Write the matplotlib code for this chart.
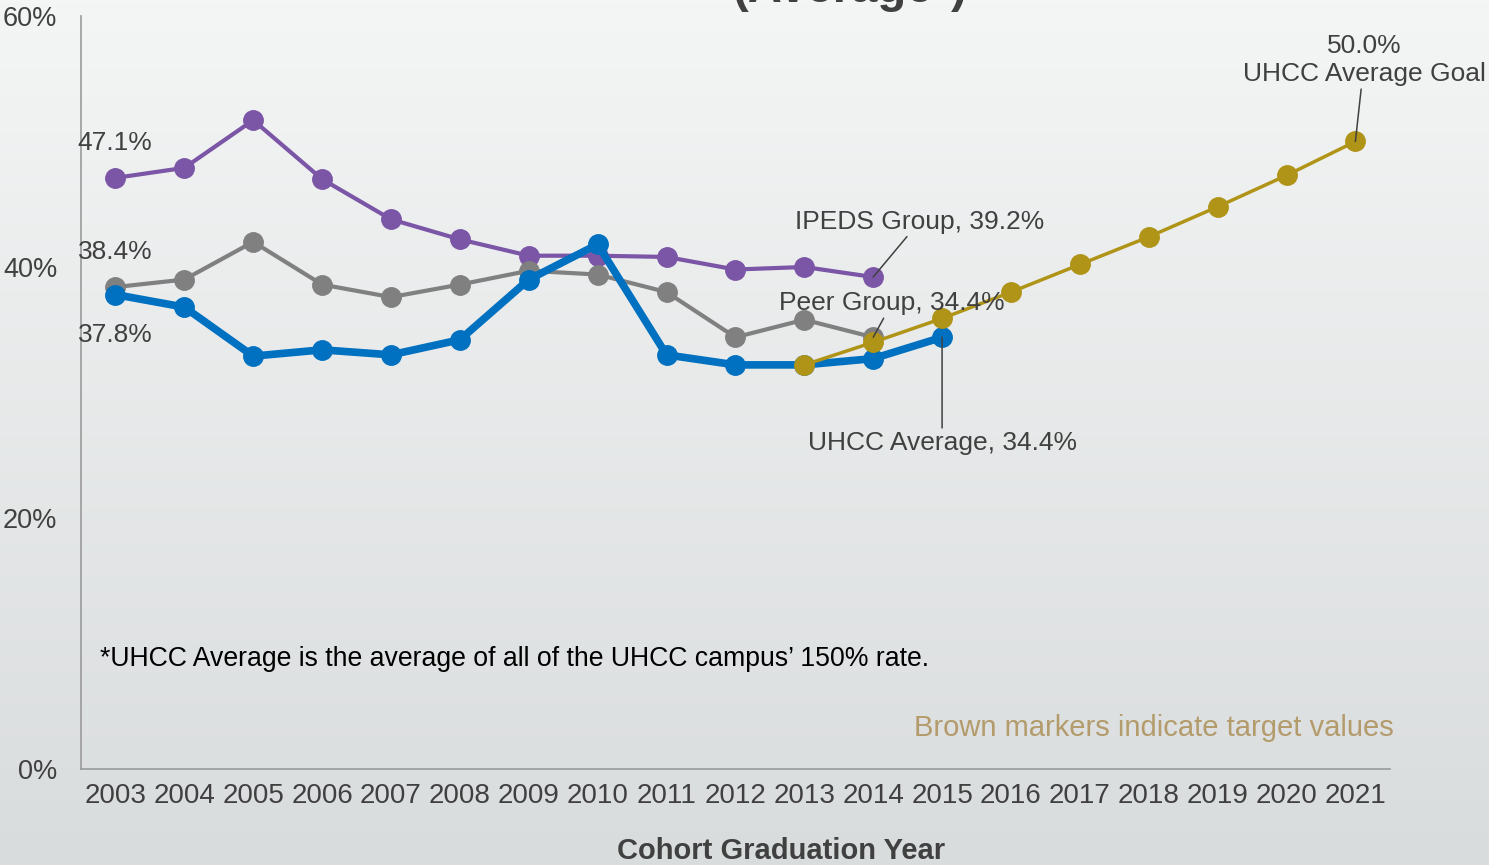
import matplotlib
matplotlib.use("Agg")
import matplotlib.pyplot as plt
import numpy as np

plt.rcParams['font.family'] = ['Liberation Sans', 'DejaVu Sans']

years = list(range(2003, 2022))
ipeds_years = list(range(2003, 2015))
ipeds = [47.1, 47.9, 51.7, 47.0, 43.8, 42.2, 40.9, 40.9, 40.8, 39.8, 40.0, 39.2]
peer_years = list(range(2003, 2015))
peer = [38.4, 39.0, 42.0, 38.6, 37.6, 38.6, 39.7, 39.4, 38.0, 34.4, 35.8, 34.4]
uhcc_years = list(range(2003, 2016))
uhcc = [37.8, 36.8, 32.9, 33.4, 33.0, 34.2, 39.0, 41.8, 33.0, 32.2, 32.2, 32.7, 34.4]
target_years = list(range(2013, 2022))
target = [32.2, 34.0, 35.9, 38.0, 40.2, 42.4, 44.8, 47.3, 50.0]

TXT = '#404040'
C_PURPLE = '#7B55A6'
C_GRAY = '#808080'
C_BLUE = '#0070C0'
C_GOLD = '#B09418'

fig = plt.figure(figsize=(14.89, 8.65), dpi=100)

# background gradient
bg = fig.add_axes([0, 0, 1, 1], zorder=-10)
grad = np.linspace(0, 1, 256).reshape(-1, 1)
top = np.array([0.957, 0.961, 0.961])
bot = np.array([0.851, 0.863, 0.867])
img = top + (bot - top) * grad[:, :, None]
bg.imshow(img, aspect='auto', extent=[0, 1, 0, 1])
bg.axis('off')

ax = fig.add_axes([0.0544, 0.111, 0.879, 0.8705])
ax.patch.set_alpha(0)

ax.plot(ipeds_years, ipeds, color=C_PURPLE, lw=3, marker='o', ms=14, zorder=3)
ax.plot(peer_years, peer, color=C_GRAY, lw=3, marker='o', ms=14, zorder=3)
ax.plot(uhcc_years, uhcc, color=C_BLUE, lw=5.5, marker='o', ms=14, zorder=4)
ax.plot(target_years, target, color=C_GOLD, lw=2.5, marker='o', ms=14, zorder=5)

ax.set_xlim(2002.5, 2021.5)
ax.set_ylim(0, 60)
ax.set_xticks(years)
ax.set_xticklabels([str(y) for y in years])
ax.set_yticks([0, 20, 40, 60])
ax.set_yticklabels(['0%', '20%', '40%', '60%'])
ax.tick_params(length=0, labelsize=20, colors=TXT)
ax.tick_params(axis='y', pad=17, labelsize=19.5)
ax.tick_params(axis='x', pad=10)
for s in ['top', 'right']:
    ax.spines[s].set_visible(False)
for s in ['left', 'bottom']:
    ax.spines[s].set_color('#9a9a9a')
    ax.spines[s].set_linewidth(1.2)

fs = 19
ax.annotate(f'{ipeds[0]:.1f}%', xy=(2002.45, ipeds[0] + 2.2), fontsize=fs, color=TXT,
            va='baseline', ha='left', annotation_clip=False)
ax.annotate(f'{peer[0]:.1f}%', xy=(2002.45, peer[0] + 2.2), fontsize=fs, color=TXT,
            va='baseline', ha='left', annotation_clip=False)
ax.annotate(f'{uhcc[0]:.1f}%', xy=(2002.45, uhcc[0] - 3.8), fontsize=fs, color=TXT,
            va='baseline', ha='left', annotation_clip=False)

arrow = dict(arrowstyle='-', color='#404040', lw=1.1, shrinkA=0, shrinkB=0)
ax.annotate(f'IPEDS Group, {ipeds[-1]:.1f}%', xy=(2014, ipeds[-1]), xytext=(2014.67, 43.6),
            fontsize=fs, color=TXT, ha='center', va='center', arrowprops=arrow, zorder=6)
ax.annotate(f'Peer Group, {peer[-1]:.1f}%', xy=(2014, peer[-1]), xytext=(2014.27, 37.1),
            fontsize=fs, color=TXT, ha='center', va='center', arrowprops=arrow, zorder=6)
ax.annotate(f'UHCC Average, {uhcc[-1]:.1f}%', xy=(2015, uhcc[-1]), xytext=(2015.0, 26.0),
            fontsize=fs, color=TXT, ha='center', va='center', arrowprops=arrow, zorder=6)
ax.annotate(f'{target[-1]:.1f}%\nUHCC Average Goal', xy=(2021, target[-1]), xytext=(2021.13, 56.5),
            fontsize=fs, color=TXT, ha='center', va='center', arrowprops=arrow,
            annotation_clip=False, linespacing=1.25, zorder=6)

ax.text(2002.78, 8.8, '*UHCC Average is the average of all of the UHCC campus\u2019 150% rate.',
        fontsize=19.2, color='black', va='center', ha='left')
ax.text(2021.55, 3.3, 'Brown markers indicate target values', fontsize=21,
        color='#B39B6B', ha='right', va='center')

fig.text(0.5245, 1 - 851 / 865, 'Cohort Graduation Year', fontsize=21, weight='bold',
         color=TXT, ha='center', va='center')
fig.text(0.571, 1 - 2 / 865, '(Average*)', fontsize=34, weight='bold', color=TXT,
         ha='center', va='baseline')

fig.savefig('out.png', dpi=100)
